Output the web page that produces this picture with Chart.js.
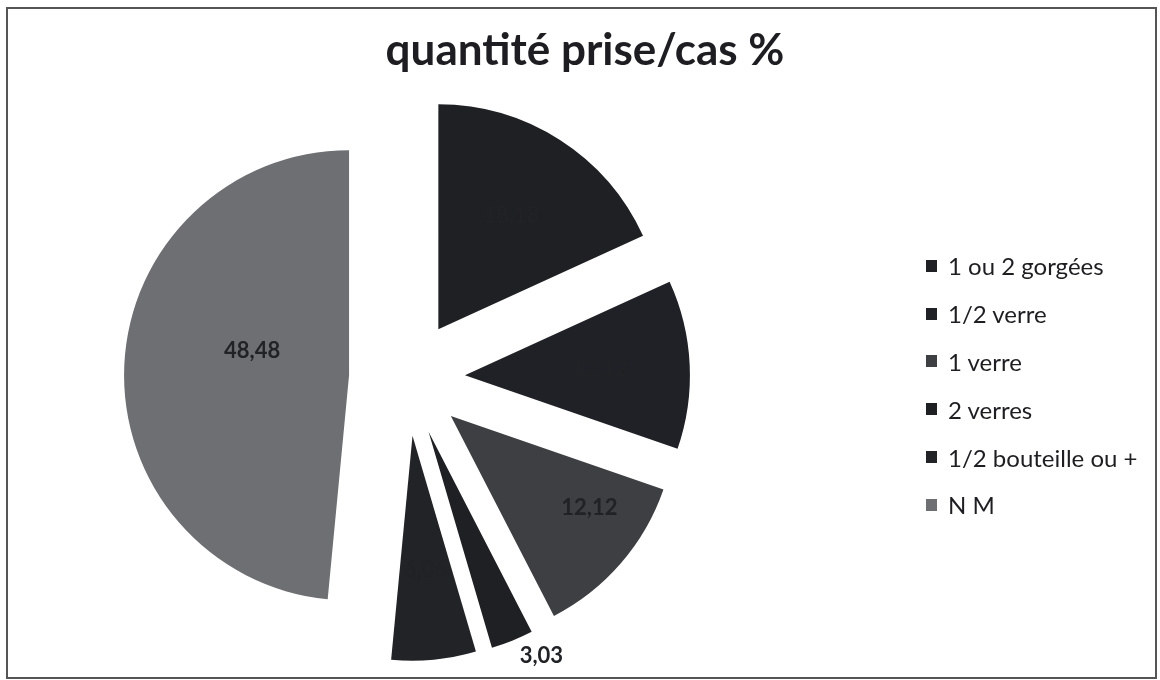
<!DOCTYPE html>
<html lang="fr">
<head>
<meta charset="utf-8">
<title>quantité prise/cas %</title>
<script src="https://cdn.jsdelivr.net/npm/chart.js@4.4.1/dist/chart.umd.min.js"></script>
<style>
  html, body { margin: 0; padding: 0; background: #fff; }
  #wrap { position: relative; width: 1160px; height: 680px; overflow: hidden; }
  #frame {
    position: absolute; left: 6px; top: 7px; width: 1151px; height: 672px;
    border: 2px solid #555; box-sizing: border-box; pointer-events: none;
  }
  #title {
    position: absolute; left: 0; top: 22px; width: 1170px; text-align: center;
    font: bold 44px Lato, sans-serif; color: #1e1e22; white-space: nowrap;
  }
  #legend {
    position: absolute; left: 926px; top: 242px; margin: 0; padding: 0; list-style: none;
    font: 24px Lato, sans-serif; color: #1e1e22;
  }
  #legend li { height: 47.8px; display: flex; align-items: center; white-space: nowrap; }
  #legend .box { width: 11px; height: 12px; margin-right: 11px; flex: none; }
  #chart { position: absolute; left: 0; top: 0; }
</style>
</head>
<body>
<div id="wrap">
  <canvas id="chart" width="1160" height="680"></canvas>
  <div id="title">quantité prise/cas %</div>
  <ul id="legend"></ul>
  <div id="frame"></div>
</div>
<script>
const categories = ["1 ou 2 gorgées", "1/2 verre", "1 verre", "2 verres", "1/2 bouteille ou +", "N M"];
const percents = [18.18, 12.12, 12.12, 3.03, 6.06, 48.48];

const sliceColors = ["#1f2024", "#202126", "#3d3f43", "#1f2024", "#222327", "#6d6f73"];
// where each value label sits: fraction of the radius from the slice tip,
// and fraction of the slice's sweep (0.5 = bisector)
const labelRadius = [0.6, 0.6, 0.74, 1.115, 0.6, 0.444];
const labelSweep = [0.5, 0.5, 0.335, 0.05, 0.5, 0.565];
const EXPLODE = 58;

function formatValue(v) {
	return v.toFixed(2).replace(".", ",");
}

// draw every slice pushed out along its bisector, like an exploded pie
const explodePlugin = {
	id: "explode",
	beforeDatasetsDraw(chart) {
		const ctx = chart.ctx;
		chart.getDatasetMeta(0).data.forEach(arc => {
			const mid = (arc.startAngle + arc.endAngle) / 2;
			ctx.save();
			ctx.translate(Math.cos(mid) * EXPLODE, Math.sin(mid) * EXPLODE);
			arc.draw(ctx);
			ctx.restore();
		});
		return false;
	}
};

const valueLabels = {
	id: "valueLabels",
	afterDraw(chart) {
		const ctx = chart.ctx;
		const data = chart.data.datasets[0].data;
		ctx.save();
		ctx.font = "bold 22px Lato, sans-serif";
		ctx.fillStyle = "#212226";
		ctx.textAlign = "center";
		ctx.textBaseline = "middle";
		chart.getDatasetMeta(0).data.forEach((arc, i) => {
			const mid = (arc.startAngle + arc.endAngle) / 2;
			const tipX = arc.x + Math.cos(mid) * EXPLODE;
			const tipY = arc.y + Math.sin(mid) * EXPLODE;
			const a = arc.startAngle + (arc.endAngle - arc.startAngle) * labelSweep[i];
			const r = labelRadius[i] * arc.outerRadius;
			ctx.fillText(formatValue(data[i]), tipX + Math.cos(a) * r, tipY + Math.sin(a) * r);
		});
		ctx.restore();
	}
};

function buildLegend() {
	const ul = document.getElementById("legend");
	categories.forEach((name, i) => {
		const li = document.createElement("li");
		const box = document.createElement("span");
		box.className = "box";
		box.style.background = sliceColors[i];
		li.appendChild(box);
		li.appendChild(document.createTextNode(name));
		ul.appendChild(li);
	});
}

const ctx = document.getElementById("chart").getContext("2d");
new Chart(ctx, {
	type: "pie",
	data: {
		labels: categories,
		datasets: [{
			data: percents,
			backgroundColor: sliceColors,
			borderWidth: 0
		}]
	},
	options: {
		responsive: false,
		animation: false,
		layout: { padding: { top: 153, bottom: 77, left: 182, right: 528 } },
		plugins: {
			legend: { display: false },
			tooltip: { enabled: false }
		}
	},
	plugins: [explodePlugin, valueLabels]
});
buildLegend();
</script>
</body>
</html>
